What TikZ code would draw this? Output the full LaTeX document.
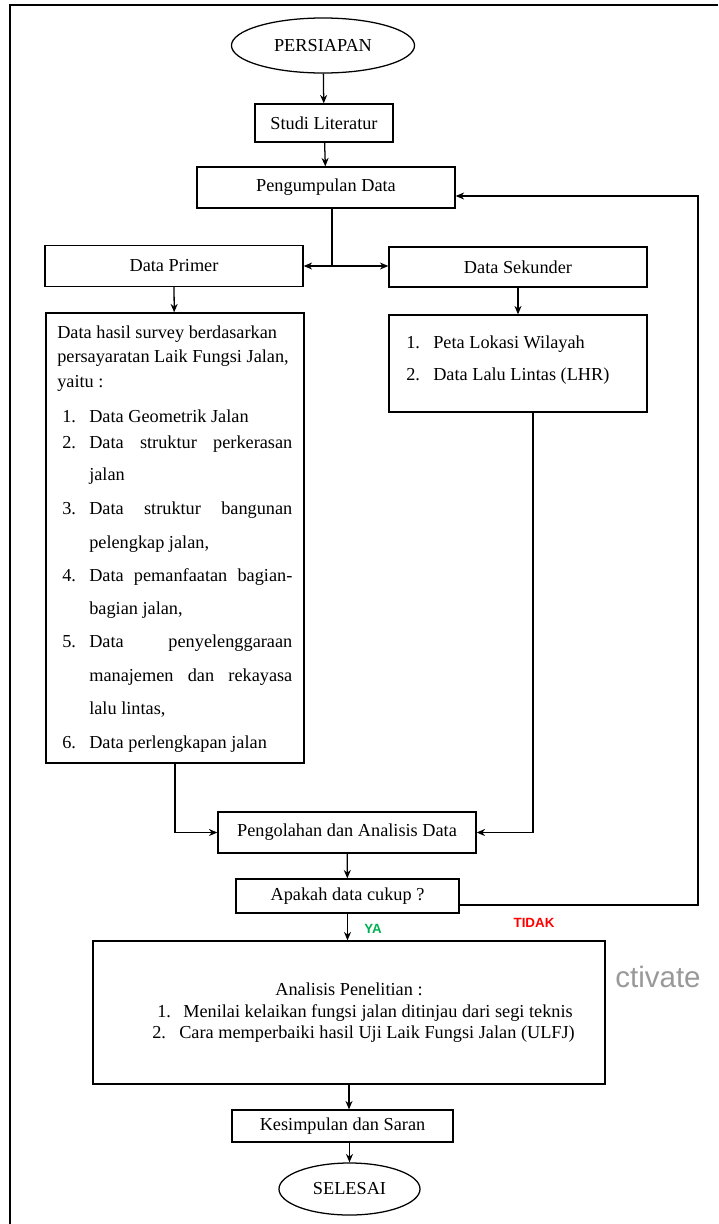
\documentclass[tikz,border=0pt]{standalone}
\usepackage{fontspec}
\setmainfont{Liberation Serif}
\newfontfamily\sanshuruf{Liberation Sans}
\usetikzlibrary{shapes.geometric}
\usetikzlibrary{arrows.meta}
\definecolor{hijauya}{RGB}{0,176,80}
\definecolor{merahtidak}{RGB}{255,0,0}

\begin{document}
\begin{tikzpicture}[x=0.025cm,y=-0.025cm,
  every node/.style={font=\fontsize{13}{15.6}\selectfont},
  kotak/.style={draw,line width=0.9pt,inner sep=0pt},
  elip/.style={ellipse,draw,line width=0.9pt,inner sep=0pt},
  panah/.style={line width=0.9pt,-{Stealth[length=6pt,width=5pt]}},
  garis/.style={line width=0.9pt},
  baris/.style={anchor=base west,inner sep=0pt}]
\useasboundingbox (0,0) rectangle (718,1224);
\draw[line width=1.8pt] (718,5) -- (10,5) -- (10,1224);

\node[elip,minimum width=4.575cm,minimum height=1.375cm] (persiapan) at (323,45.5) {PERSIAPAN};
\node[kotak,minimum width=3.45cm,minimum height=0.95cm] (studi) at (324,123) {Studi Literatur};
\node[kotak,minimum width=6.45cm,minimum height=1.025cm] (kumpul) at (326,187.5) {Pengumpulan Data};
\node[kotak,minimum width=6.45cm,minimum height=1.025cm] (primer) at (174,266) {Data Primer};
\node[kotak,minimum width=6.45cm,minimum height=1cm] (sekunder) at (518,267) {Data Sekunder};
\node[kotak,minimum width=6.45cm,minimum height=11.25cm] (primerdet) at (175,538) {};
\node[kotak,minimum width=6.45cm,minimum height=2.425cm] (sekunderdet) at (518,363.5) {};
\node[kotak,minimum width=6.45cm,minimum height=1.025cm] (olah) at (347,832.5) {Pengolahan dan Analisis Data};
\node[kotak,minimum width=5.575cm,minimum height=0.85cm] (cukup) at (347.5,896) {Apakah data cukup ?};
\node[kotak,minimum width=12.8cm,minimum height=3.575cm] (analisis) at (349,1012.5) {};
\node[kotak,minimum width=5.525cm,minimum height=0.8cm] (simpul) at (342.5,1126) {Kesimpulan dan Saran};
\node[elip,minimum width=3.525cm,minimum height=1.3cm] (selesai) at (349.5,1189) {SELESAI};

% isi data primer
\node[baris] (pd1) at (57,338) {Data hasil survey berdasarkan};
\node[baris] (pd2) at (57,362) {persayaratan Laik Fungsi Jalan,};
\node[baris] (pd3) at (57,387) {yaitu :};
\node[baris] (pn1) at (62,422) {1.};
\node[baris] (pt1) at (89,422) {Data Geometrik Jalan};
\node[baris] (pn2) at (62,448) {2.};
\node[baris] (pt2) at (89,448) {\makebox[5.075cm][s]{Data struktur perkerasan}};
\node[baris] (pt2b) at (89,480) {jalan};
\node[baris] (pn3) at (62,514) {3.};
\node[baris] (pt3) at (89,514) {\makebox[5.075cm][s]{Data struktur bangunan}};
\node[baris] (pt3b) at (89,548) {pelengkap jalan,};
\node[baris] (pn4) at (62,581) {4.};
\node[baris] (pt4) at (89,581) {\makebox[5.075cm][s]{Data pemanfaatan bagian-}};
\node[baris] (pt4b) at (89,614) {bagian jalan,};
\node[baris] (pn5) at (62,647) {5.};
\node[baris] (pt5) at (89,647) {\makebox[5.075cm][s]{Data penyelenggaraan}};
\node[baris] (pt5b) at (89,681) {\makebox[5.075cm][s]{manajemen dan rekayasa}};
\node[baris] (pt5c) at (89,714) {lalu lintas,};
\node[baris] (pn6) at (62,748) {6.};
\node[baris] (pt6) at (89,748) {Data perlengkapan jalan};

% isi data sekunder
\node[baris] (sn1) at (406,348) {1.};
\node[baris] (st1) at (433,348) {Peta Lokasi Wilayah};
\node[baris] (sn2) at (406,380) {2.};
\node[baris] (st2) at (433,380) {Data Lalu Lintas (LHR)};

% isi analisis
\node[anchor=base,inner sep=0pt] (an0) at (349,995) {Analisis Penelitian :};
\node[baris] (an1) at (157,1017) {1.};
\node[baris] (at1) at (183,1017) {Menilai kelaikan fungsi jalan ditinjau dari segi teknis};
\node[baris] (an2) at (152,1038) {2.};
\node[baris] (at2) at (179,1038) {Cara memperbaiki hasil Uji Laik Fungsi Jalan (ULFJ)};

\draw[panah] (persiapan) -- (studi);
\draw[panah] (studi) -- (kumpul);
\coordinate (cabang) at (332,266);
\draw[garis] (kumpul.south -| cabang) -- (cabang);
\draw[panah] (cabang) -- (cabang -| primer.east);
\draw[panah] (cabang) -- (cabang -| sekunder.west);
\draw[panah] (primer) -- (primerdet);
\draw[panah] (sekunder.south) -- (sekunderdet.north);
\draw[panah] (primerdet.south) |- (olah.west);
\coordinate (turunkanan) at (533,412);
\draw[panah] (turunkanan) |- (olah.east);
\draw[panah] (olah) -- (cukup);
\coordinate (balik1) at (698,905);
\coordinate (balik2) at (698,196);
\draw[panah] (cukup.east |- balik1) -- (balik1) -- (balik2) -- (kumpul.east |- balik2);
\draw[panah] (cukup.south) -- (cukup.south |- analisis.north);
\draw[panah] (analisis.south) -- (analisis.south |- simpul.north);
\draw[panah] (simpul.south -| selesai) -- (selesai.north);

\node[font=\sanshuruf\bfseries\fontsize{9.5}{11}\selectfont,text=hijauya] (ya) at (373,929) {YA};
\node[font=\sanshuruf\bfseries\fontsize{9.5}{11}\selectfont,text=merahtidak] (tidak) at (534,923) {TIDAK};
\node[anchor=west,inner sep=0pt,font=\sanshuruf\fontsize{21}{24}\selectfont,text=black!40] (aktif) at (615,977) {ctivate};

\end{tikzpicture}
\end{document}
